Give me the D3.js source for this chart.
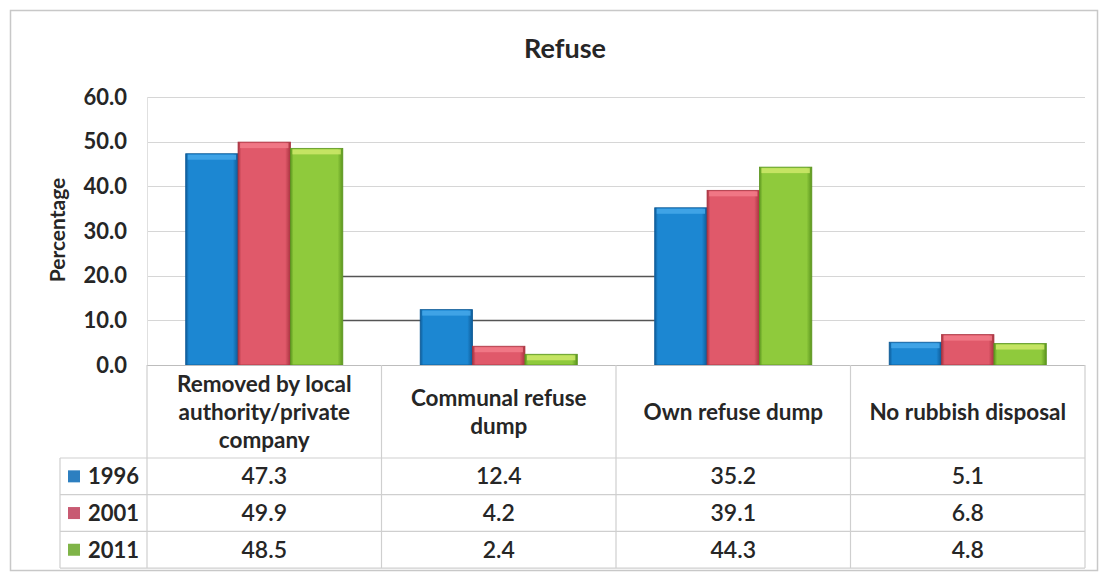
<!DOCTYPE html>
<html>
<head>
<meta charset="utf-8">
<script src="https://cdn.jsdelivr.net/npm/d3@7"></script>
<style>
  html, body { margin: 0; padding: 0; background: #fff; }
  svg { display: block; }
  text { font-family: Lato, "Open Sans", sans-serif; fill: #262626; }
</style>
</head>
<body>
<svg id="chart" width="1107" height="577"></svg>
<script>
// Refuse disposal by household, percentage per census year
const categories = [
  ["Removed by local", "authority/private", "company"],
  ["Communal refuse", "dump"],
  ["Own refuse dump"],
  ["No rubbish disposal"]
];
const years = ["1996", "2001", "2011"];
const values1996 = [47.3, 12.4, 35.2, 5.1];
const values2001 = [49.9, 4.2, 39.1, 6.8];
const values2011 = [48.5, 2.4, 44.3, 4.8];
const yTicks = [0, 10, 20, 30, 40, 50, 60];

const seriesValues = [values1996, values2001, values2011];
const colors = [
  { main: "#1c87d2", edge: "#0d5a96", top: "#45a8ea", key: "#2d7fc0" },
  { main: "#e0596a", edge: "#a8323f", top: "#f27d8a", key: "#c85a72" },
  { main: "#8fca3c", edge: "#5b951e", top: "#cfe96a", key: "#7fb448" }
];

const svg = d3.select("#chart");

// outer frame
svg.append("rect").attr("x", 10.5).attr("y", 10.5).attr("width", 1087).attr("height", 560)
  .attr("fill", "#fff").attr("stroke", "#c8c8c8").attr("stroke-width", 1.5);

const plot = { left: 147, right: 1085, top: 97, bottom: 365 };

const x = d3.scaleBand().domain(d3.range(categories.length))
  .range([plot.left, plot.right]).paddingInner(0).paddingOuter(0);
const groupWidth = x.bandwidth() * 0.67;
const xs = d3.scaleBand().domain(d3.range(years.length)).range([0, groupWidth]);
const y = d3.scaleLinear().domain([0, 60]).range([plot.bottom, plot.top]);

// title
svg.append("text").attr("x", 565).attr("y", 58).attr("text-anchor", "middle")
  .attr("font-size", 27).attr("font-weight", 700).text("Refuse");

// gradients for the bars
const defs = svg.append("defs");
colors.forEach((c, i) => {
  const g = defs.append("linearGradient").attr("id", "bar" + i)
    .attr("x1", 0).attr("x2", 1).attr("y1", 0).attr("y2", 0);
  g.append("stop").attr("offset", "0%").attr("stop-color", c.edge);
  g.append("stop").attr("offset", "6%").attr("stop-color", c.main);
  g.append("stop").attr("offset", "90%").attr("stop-color", c.main);
  g.append("stop").attr("offset", "100%").attr("stop-color", c.edge);
});

// gridlines
const grid = svg.append("g");
grid.selectAll("line").data(yTicks.filter(d => d > 0)).join("line")
  .attr("x1", plot.left).attr("x2", plot.right)
  .attr("y1", d => Math.round(y(d)) + 0.5).attr("y2", d => Math.round(y(d)) + 0.5)
  .attr("stroke", "#d6d6d6").attr("stroke-width", 1.2);

// darker gridline runs between the first and third groups
const darkStart = x(0) + (x.bandwidth() + groupWidth) / 2;
const darkEnd = x(2) + (x.bandwidth() - groupWidth) / 2;
[10, 20].forEach(v => {
  svg.append("line").attr("x1", darkStart).attr("x2", darkEnd)
    .attr("y1", Math.round(y(v)) + 0.5).attr("y2", Math.round(y(v)) + 0.5)
    .attr("stroke", "#555").attr("stroke-width", 1.5);
});

// plot left edge
svg.append("line").attr("x1", plot.left + 0.5).attr("x2", plot.left + 0.5)
  .attr("y1", plot.top).attr("y2", plot.bottom).attr("stroke", "#e0e0e0");

// y axis tick labels
const yAxis = d3.axisLeft(y).tickValues(yTicks).tickFormat(d3.format(".1f")).tickSize(0).tickPadding(0);
const ya = svg.append("g").attr("transform", `translate(127,0)`).call(yAxis);
ya.select(".domain").remove();
ya.selectAll("text").attr("font-size", 22).attr("font-weight", 700)
  .attr("font-family", "Lato, sans-serif").attr("fill", "#262626");

// y axis title
svg.append("text").attr("transform", "translate(65,230) rotate(-90)")
  .attr("text-anchor", "middle").attr("font-size", 21).attr("font-weight", 700).text("Percentage");

// bars
const groups = svg.append("g").selectAll("g").data(categories).join("g")
  .attr("transform", (d, i) => `translate(${x(i) + (x.bandwidth() - groupWidth) / 2},0)`);
groups.each(function (cat, ci) {
  const g = d3.select(this);
  years.forEach((yr, si) => {
    const v = seriesValues[si][ci];
    const bx = xs(si), bw = xs.bandwidth();
    g.append("rect").attr("x", bx).attr("y", y(v)).attr("width", bw)
      .attr("height", y(0) - y(v)).attr("fill", `url(#bar${si})`)
      .attr("stroke", colors[si].edge).attr("stroke-width", 0.8);
    g.append("rect").attr("x", bx + 2).attr("y", y(v) + 1).attr("width", bw - 4)
      .attr("height", Math.min(5, y(0) - y(v) - 1)).attr("fill", colors[si].top).attr("opacity", 0.85);
  });
});

// axis baseline
svg.append("line").attr("x1", plot.left).attr("x2", plot.right)
  .attr("y1", plot.bottom + 0.5).attr("y2", plot.bottom + 0.5).attr("stroke", "#bdbdbd");

// data table
const table = { top: 458, rowH: 36.7, legendLeft: 60 };
const tableBottom = table.top + table.rowH * years.length;
const tl = svg.append("g").attr("stroke", "#cfcfcf").attr("stroke-width", 1.2);
// vertical column borders
d3.range(categories.length + 1).forEach(i => {
  const xv = i < categories.length ? x(i) : x(categories.length - 1) + x.bandwidth();
  tl.append("line").attr("x1", xv).attr("x2", xv).attr("y1", plot.bottom).attr("y2", tableBottom);
});
// legend column left border
tl.append("line").attr("x1", table.legendLeft).attr("x2", table.legendLeft)
  .attr("y1", table.top).attr("y2", tableBottom);
// row lines
d3.range(years.length + 1).forEach(r => {
  const yv = table.top + r * table.rowH;
  tl.append("line").attr("x1", table.legendLeft).attr("x2", plot.right).attr("y1", yv).attr("y2", yv);
});

// category labels
categories.forEach((lines, ci) => {
  const cx = x(ci) + x.bandwidth() / 2;
  const lineH = 28;
  const mid = 412;
  const startY = mid - (lines.length - 1) * lineH / 2 + 8;
  const t = svg.append("text").attr("text-anchor", "middle").attr("font-size", 22.5).attr("font-weight", 700)
    .attr("fill", "#333");
  lines.forEach((ln, li) => {
    t.append("tspan").attr("x", cx).attr("y", startY + li * lineH).text(ln);
  });
});

// legend keys and values
years.forEach((yr, si) => {
  const rowMid = table.top + (si + 0.5) * table.rowH;
  svg.append("rect").attr("x", 68).attr("y", rowMid - 6).attr("width", 12).attr("height", 12)
    .attr("fill", colors[si].key);
  svg.append("text").attr("x", 88).attr("y", rowMid + 8).attr("font-size", 22).attr("font-weight", 700)
    .text(yr);
  categories.forEach((c, ci) => {
    svg.append("text").attr("x", x(ci) + x.bandwidth() / 2).attr("y", rowMid + 8)
      .attr("text-anchor", "middle").attr("font-size", 23).attr("font-weight", 600).attr("fill", "#333")
      .text(d3.format(".1f")(seriesValues[si][ci]));
  });
});
</script>
</body>
</html>
